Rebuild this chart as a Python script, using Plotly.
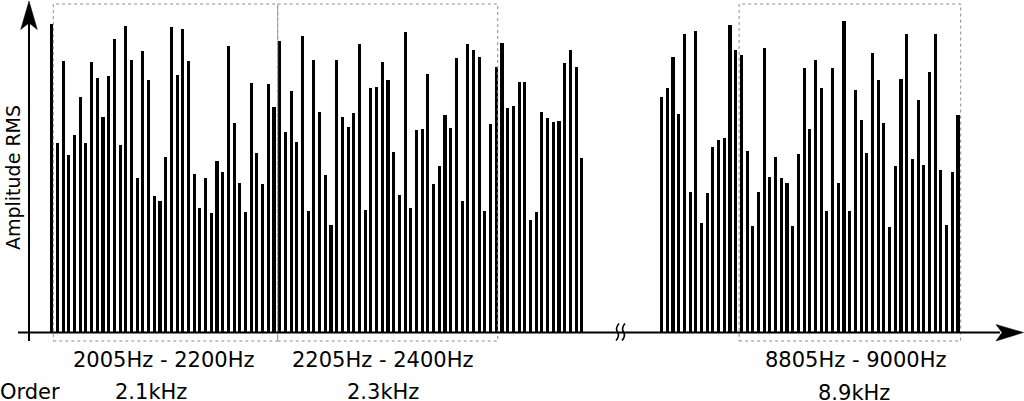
import plotly.graph_objects as go

# ---- data (amplitude, arbitrary units) ----
left_freq_start_hz = 2000
left_amp = [307.7, 189.3, 270.7, 176.7, 196.7, 234.7, 188.7, 270, 254, 214.7,
            255.7, 293, 186.7, 306, 271.7, 154, 281, 252, 135.7, 131.3,
            175, 305.3, 257.3, 303.3, 270.7, 158, 123.7, 153.7, 118.7, 171,
            160, 286, 208.7, 149.3, 120, 249.3, 179.3, 148.3, 247.7, 225,
            291, 199.7, 241, 190.3, 296, 121, 272, 220, 156.7, 107,
            271.7, 214.7, 205.5, 218.7, 288, 121.7, 243.7, 244.7, 270, 252.3,
            179.7, 136.7, 299.7, 123.7, 202.3, 203, 258.3, 148, 166.3, 217,
            204.3, 274.3, 130.7, 287.7, 282.3, 274.7, 121, 207.7, 264.7, 288.7,
            224, 225.7, 250, 250, 111.7, 119.7, 220, 214.3, 210.3, 210.7,
            268.7, 282.3, 264.7, 174]
right_freq_start_hz = 8735
right_amp = [234.7, 244, 274.7, 217.7, 298.3, 139.7, 300.7, 109.3, 138.7, 185,
             191.7, 194, 307.3, 282.3, 276.7, 180.7, 106, 139.7, 284.3, 155.3,
             175, 153.7, 149, 105.7, 177.7, 263.7, 203, 271.7, 244.3, 121.3,
             263.7, 149, 310.7, 120.7, 242, 212, 179, 278.7, 252.3, 209,
             105.3, 166, 253, 298.3, 172.7, 232, 166.7, 260.3, 298, 161.7,
             107, 159.7, 217.3]
step_hz = 5
band_labels = ["2005Hz - 2200Hz", "2205Hz - 2400Hz", "8805Hz - 9000Hz"]
order_labels = ["2.1kHz", "2.3kHz", "8.9kHz"]

# ---- positions on a broken axis (bin slots) ----
gap_bins = 13
left_pos = list(range(len(left_amp)))
right_pos = [len(left_amp) + gap_bins + i for i in range(len(right_amp))]
left_freq = [left_freq_start_hz + step_hz * i for i in range(len(left_amp))]
right_freq = [right_freq_start_hz + step_hz * i for i in range(len(right_amp))]

W, H = 1024, 401
x0_px, dx_px = 51.7, 5.7
base_px = 332

def px(x):
    return x / W

def py(y):
    return 1 - y / H

fig = go.Figure()
fig.add_trace(go.Bar(x=left_pos, y=left_amp, customdata=left_freq, width=0.53,
                     marker=dict(color="black", line=dict(width=0)),
                     hovertemplate="%{customdata} Hz: %{y}<extra></extra>"))
fig.add_trace(go.Bar(x=right_pos, y=right_amp, customdata=right_freq, width=0.53,
                     marker=dict(color="black", line=dict(width=0)),
                     hovertemplate="%{customdata} Hz: %{y}<extra></extra>"))

shapes = []
# dotted band boxes (in data x, pixel-equivalent y)
boxes = [(0.28, 39.65), (39.65, 78.25), (right_pos[0] + 13.6, right_pos[-1] + 0.47)]
for a, b in boxes:
    shapes.append(dict(type="rect", xref="x", yref="y", x0=a, x1=b, y0=-9, y1=328,
                       line=dict(color="#8a8a8a", width=1, dash="dot"),
                       fillcolor="rgba(0,0,0,0)", layer="above"))
# x axis line
shapes.append(dict(type="line", xref="paper", yref="paper", x0=px(18), x1=px(1000),
                   y0=py(332.5), y1=py(332.5), line=dict(color="black", width=2)))
# y axis line
shapes.append(dict(type="line", xref="paper", yref="paper", x0=px(29), x1=px(29),
                   y0=py(341), y1=py(20), line=dict(color="black", width=2)))
# arrowheads
shapes.append(dict(type="path", xref="paper", yref="paper",
                   path=f"M {px(29)},{py(1)} L {px(37.3)},{py(29.5)} L {px(29)},{py(23)} L {px(20.7)},{py(29.5)} Z",
                   fillcolor="black", line=dict(color="black", width=0.5)))
shapes.append(dict(type="path", xref="paper", yref="paper",
                   path=f"M {px(1023.5)},{py(332.5)} L {px(996)},{py(341)} L {px(1002)},{py(332.5)} L {px(996)},{py(324.5)} Z",
                   fillcolor="black", line=dict(color="black", width=0.5)))
# axis-break squiggles
for cx in (617.5, 623.5):
    shapes.append(dict(type="path", xref="paper", yref="paper",
                       path=(f"M {px(cx+1.5)},{py(323.5)} Q {px(cx-2.5)},{py(328)} {px(cx)},{py(332)} "
                             f"Q {px(cx+2.5)},{py(336)} {px(cx-1.5)},{py(340.5)}"),
                       line=dict(color="black", width=1.6)))

font = dict(family="DejaVu Sans", size=21, color="black")
ann = []
band_cx = [163, 382.2, 855.5]
order_cx = [150.8, 382.5, 854]
order_cy = [391.5, 391.5, 392.5]
for t, cx in zip(band_labels, band_cx):
    ann.append(dict(text=t, x=px(cx), y=py(360), xref="paper", yref="paper",
                    showarrow=False, xanchor="center", yanchor="middle", font=font))
for t, cx, cy in zip(order_labels, order_cx, order_cy):
    ann.append(dict(text=t, x=px(cx), y=py(cy), xref="paper", yref="paper",
                    showarrow=False, xanchor="center", yanchor="middle", font=font))
ann.append(dict(text="Order", x=px(-2), y=py(391.5), xref="paper", yref="paper",
                showarrow=False, xanchor="left", yanchor="middle", font=font))
ann.append(dict(text="Amplitude RMS", x=px(13), y=py(178), xref="paper", yref="paper",
                showarrow=False, xanchor="center", yanchor="middle", textangle=-90,
                font=dict(family="DejaVu Sans", size=19, color="black")))

fig.update_layout(
    width=W, height=H, margin=dict(l=0, r=0, t=0, b=0),
    paper_bgcolor="white", plot_bgcolor="white", showlegend=False, bargap=0,
    shapes=shapes, annotations=ann,
    xaxis=dict(range=[(0 - x0_px) / dx_px, (W - x0_px) / dx_px], showgrid=False,
               zeroline=False, showticklabels=False, showline=False, fixedrange=True),
    yaxis=dict(range=[base_px - H, base_px], showgrid=False, zeroline=False,
               showticklabels=False, showline=False, fixedrange=True),
)
fig.write_html("out.html", config={"displayModeBar": False},
               post_script="document.body.style.margin='0';document.body.style.padding='0';document.body.style.overflow='hidden';")
